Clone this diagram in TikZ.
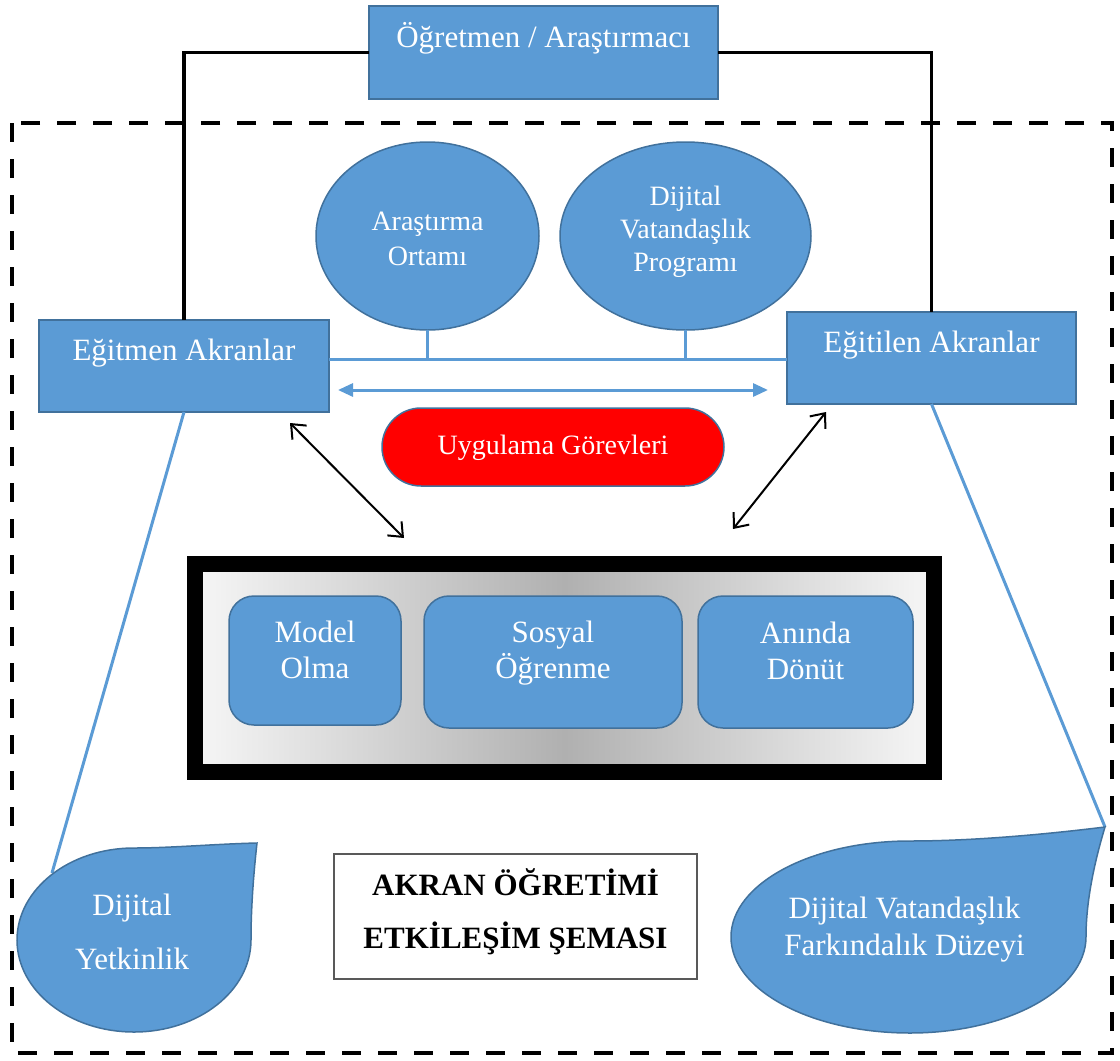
\documentclass[tikz,border=0pt]{standalone}
\usepackage{fontspec}
\setmainfont{Liberation Serif}
\usetikzlibrary{arrows.meta,shapes.geometric}
\definecolor{officeblue}{HTML}{5B9BD5}
\definecolor{blueedge}{HTML}{41719C}
\definecolor{framegray}{HTML}{595959}
% centred lines whose baseline is that of the first line
\newcommand{\stacktext}[1]{\begin{tabular}[t]{@{}c@{}}#1\end{tabular}}

\begin{document}
\begin{tikzpicture}[x=1pt,y=-1pt,
  bluebox/.style={draw=blueedge,line width=1.5pt,fill=officeblue,inner sep=0pt,outer sep=0pt},
  wtext/.style={text=white,inner sep=0pt,anchor=base},
  bigfont/.style={font=\fontsize{31}{36}\selectfont},
  smallfont/.style={font=\fontsize{28}{35}\selectfont},
  connector/.style={line width=3.5pt,draw=black},
  blueline/.style={draw=officeblue,line width=3pt},
  twoway/.style={line width=2pt,{Straight Barb[length=12pt,width=20pt]}-{Straight Barb[length=12pt,width=20pt]}},
  roundbox/.style={bluebox,rounded corners=25pt}]

\useasboundingbox (0,0) rectangle (1120,1061);

% dashed outer frame
\draw[line width=4.5pt,dash pattern=on 19pt off 17pt] (12,123) rectangle (1112,1053);

% teacher / researcher
\node[bluebox,minimum width=349pt,minimum height=93pt] (teacher) at (543.5,52.5) {};
\node[wtext,bigfont] (teachertxt) at (543.5,47) {Öğretmen / Araştırmacı};

% peer groups
\node[bluebox,minimum width=290pt,minimum height=92pt] (tutor) at (184,366) {};
\node[wtext,bigfont] (tutortxt) at (184,360) {Eğitmen Akranlar};
\node[bluebox,minimum width=289pt,minimum height=92pt] (tutee) at (931.5,358) {};
\node[wtext,bigfont] (tuteetxt) at (931.5,352) {Eğitilen Akranlar};

\draw[connector] (teacher.west) -| (tutor.north);
\draw[connector] (teacher.east) -| (tutee.north);

% setting and programme
\node[bluebox,ellipse,minimum width=223pt,minimum height=188pt] (setting) at (427.5,236) {};
\node[wtext,smallfont] (settingtxt) at (427.5,230) {\stacktext{Araştırma\\Ortamı}};
\node[bluebox,ellipse,minimum width=251pt,minimum height=188pt] (program) at (685.5,236) {};
\node[wtext,font=\fontsize{28}{33}\selectfont] (programtxt) at (685.5,205) {\stacktext{Dijital\\Vatandaşlık\\Programı}};

\coordinate (bus) at (0,359);
\draw[blueline] (tutor.east |- bus) -- (tutee.west |- bus);
\draw[blueline] (setting.south) -- (setting.south |- bus);
\draw[blueline] (program.south) -- (program.south |- bus);

% exchange between the peer groups
\coordinate (flowL) at (338,390);
\coordinate (flowR) at (768,390);
\draw[blueline,{Triangle[length=15pt,width=13pt]}-{Triangle[length=15pt,width=13pt]}] (flowL) -- (flowR);

% tasks
\node[draw=blueedge,line width=1.5pt,fill=red,minimum width=342pt,minimum height=78pt,rounded corners=39pt,inner sep=0pt] (tasks) at (553,447) {};
\node[wtext,smallfont] (taskstxt) at (553,454) {Uygulama Görevleri};

% links to the interaction panel
\coordinate (tutorlink) at (290,423);
\coordinate (panelL) at (404,538);
\coordinate (tuteelink) at (826,412);
\coordinate (panelR) at (733,529);
\draw[twoway] (tutorlink) -- (panelL);
\draw[twoway] (tuteelink) -- (panelR);

% interaction panel
\shade[left color=white!96!black,right color=white!96!black,middle color=gray!62] (203,572) rectangle (926,765);
\draw[line width=16pt] (195,564) rectangle (934,772);

\node[roundbox,minimum width=172pt,minimum height=129pt] (model) at (315,660.5) {};
\node[wtext,bigfont] (modeltxt) at (315,642) {\stacktext{Model\\Olma}};
\node[roundbox,minimum width=258pt,minimum height=132pt] (social) at (553,662) {};
\node[wtext,bigfont] (socialtxt) at (553,642) {\stacktext{Sosyal\\Öğrenme}};
\node[roundbox,minimum width=215pt,minimum height=132pt] (feedback) at (805.5,662) {};
\node[wtext,bigfont] (feedbacktxt) at (805.5,643) {\stacktext{Anında\\Dönüt}};

% outcomes
\coordinate (competence) at (52,873);
\coordinate (awareness) at (1105,827);
\draw[blueline] (tutor.south) -- (competence);
\draw[blueline] (tutee.south) -- (awareness);

\draw[draw=blueedge,line width=1.5pt,fill=officeblue]
  (17,940) .. controls (17,990.8) and (69.4,1032) .. (134,1032)
  .. controls (198.6,1032) and (251,990.8) .. (251,940)
  .. controls (251,905) and (254,870) .. (257,843)
  .. controls (215,844) and (170,848) .. (134,848)
  .. controls (69.4,848) and (17,889.2) .. (17,940) -- cycle;
\node[wtext,font=\fontsize{31}{54}\selectfont] (competencetxt) at (132,915) {\stacktext{Dijital\\Yetkinlik}};

\draw[draw=blueedge,line width=1.5pt,fill=officeblue]
  (731,937) .. controls (731,990) and (811,1033) .. (910,1033)
  .. controls (1007,1033) and (1086,990) .. (1086,937)
  .. controls (1086,900) and (1095,860) .. (1105,827)
  .. controls (1040,835) and (970,841) .. (910,841)
  .. controls (811,841) and (731,884) .. (731,937) -- cycle;
\node[wtext,font=\fontsize{31}{37}\selectfont] (awarenesstxt) at (904.5,918) {\stacktext{Dijital Vatandaşlık\\Farkındalık Düzeyi}};

% title
\node[draw=framegray,line width=1.5pt,minimum width=363pt,minimum height=125pt,inner sep=0pt] (title) at (515.5,916.5) {};
\node[anchor=base,inner sep=0pt,font=\fontsize{31}{53}\selectfont\bfseries] (titletxt) at (515.5,895) {\stacktext{AKRAN ÖĞRETİMİ\\ETKİLEŞİM ŞEMASI}};

\end{tikzpicture}
\end{document}
